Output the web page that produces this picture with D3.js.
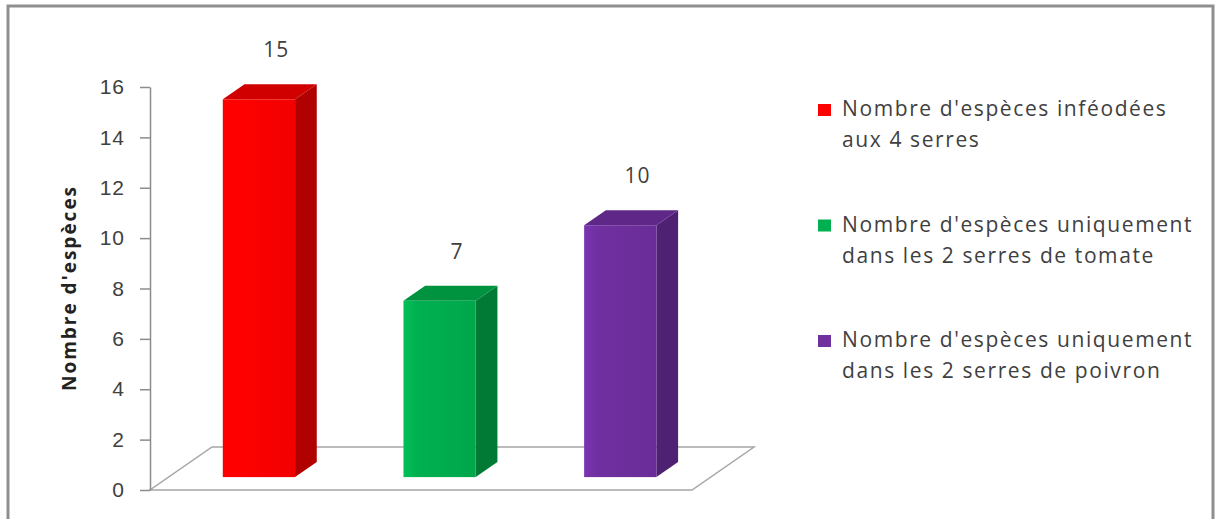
<!DOCTYPE html>
<html>
<head>
<meta charset="utf-8">
<script src="https://cdn.jsdelivr.net/npm/d3@7"></script>
<style>
  body { margin: 0; background: #fff; }
  svg { display: block; font-family: "Open Sans", Lato, sans-serif; }
</style>
</head>
<body>
<div class="chart"></div>
<script>
// data
var categories = ["infeodees", "tomate", "poivron"];
var values = [15, 7, 10];
var legendLines = [
  ["Nombre d'espèces inféodées", "aux 4 serres"],
  ["Nombre d'espèces uniquement", "dans les 2 serres de tomate"],
  ["Nombre d'espèces uniquement", "dans les 2 serres de poivron"]
];
var yTicks = [0, 2, 4, 6, 8, 10, 12, 14, 16];
var frontColors = ["#ff0000", "#00b050", "#7030a0"];
var sideColors = ["#b00000", "#007a35", "#4e2172"];
var topColors = ["#d00000", "#00933f", "#5e2788"];

var width = 1221, height = 519;
var svg = d3.select(".chart").append("svg")
  .attr("width", width)
  .attr("height", height);

svg.append("rect")
  .attr("x", 8).attr("y", 6)
  .attr("width", 1205).attr("height", 530)
  .attr("fill", "#fff")
  .attr("stroke", "#8f8f8f")
  .attr("stroke-width", 3);

var x0 = 150, x1 = 692, yBase = 490;
var depth = {dx: 62, dy: -43};

var y = d3.scaleLinear().domain([0, 16]).range([yBase, 87]);
var x = d3.scaleBand().domain(categories).range([x0, x1])
  .paddingInner(0.6).paddingOuter(0.3);

// floor
var floor = [[x0, yBase], [x1, yBase], [x1 + depth.dx, yBase + depth.dy], [x0 + depth.dx, yBase + depth.dy]];
svg.append("path")
  .attr("d", d3.line()(floor) + "Z")
  .attr("fill", "none")
  .attr("stroke", "#a6a6a6")
  .attr("stroke-width", 1.5);

// y axis
var yAxis = svg.append("g")
  .attr("transform", "translate(" + x0 + ",0)")
  .call(d3.axisLeft(y).tickValues(yTicks).tickSize(10).tickSizeOuter(0).tickPadding(15));
yAxis.select(".domain").attr("stroke", "#8c8c8c").attr("stroke-width", 1.5);
yAxis.selectAll(".tick line").attr("stroke", "#8c8c8c").attr("stroke-width", 1.5);
yAxis.selectAll(".tick text")
  .attr("fill", "#404040")
  .style("font-size", "21px")
  .style("letter-spacing", "1px");

svg.append("text")
  .attr("transform", "translate(76,288) rotate(-90)")
  .attr("text-anchor", "middle")
  .attr("fill", "#222")
  .style("font-size", "19px")
  .style("font-weight", "bold")
  .style("letter-spacing", "2px")
  .text("Nombre d'espèces");

// bars: placed at mid depth
var f0 = 0.3, f1 = 0.65;
var ox = depth.dx * f0, oy = depth.dy * f0;
var bx = depth.dx * (f1 - f0), by = depth.dy * (f1 - f0);

var defs = svg.append("defs");
frontColors.forEach(function(c, i) {
  var g = defs.append("linearGradient").attr("id", "fg" + i);
  g.append("stop").attr("offset", "0%").attr("stop-color", d3.color(c).brighter(0.25));
  g.append("stop").attr("offset", "20%").attr("stop-color", c);
  g.append("stop").attr("offset", "100%").attr("stop-color", d3.color(c).darker(0.15));
});

var bars = svg.selectAll(".bar")
  .data(values)
  .enter().append("g")
  .attr("class", "bar");

bars.append("path")
  .attr("fill", function(d, i) { return sideColors[i]; })
  .attr("d", function(d, i) {
    var xr = x(categories[i]) + x.bandwidth() + ox;
    var yt = y(d) + oy, yb = yBase + oy;
    return d3.line()([[xr, yt], [xr + bx, yt + by], [xr + bx, yb + by], [xr, yb]]) + "Z";
  });

bars.append("path")
  .attr("fill", function(d, i) { return topColors[i]; })
  .attr("d", function(d, i) {
    var xl = x(categories[i]) + ox, xr = xl + x.bandwidth();
    var yt = y(d) + oy;
    return d3.line()([[xl, yt], [xr, yt], [xr + bx, yt + by], [xl + bx, yt + by]]) + "Z";
  });

bars.append("rect")
  .attr("x", function(d, i) { return x(categories[i]) + ox; })
  .attr("y", function(d) { return y(d) + oy; })
  .attr("width", x.bandwidth())
  .attr("height", function(d) { return yBase - y(d); })
  .attr("fill", function(d, i) { return "url(#fg" + i + ")"; });

bars.append("text")
  .attr("x", function(d, i) { return x(categories[i]) + x.bandwidth() / 2 + ox + bx * 0.8; })
  .attr("y", function(d) { return y(d) + oy + by - 27; })
  .attr("text-anchor", "middle")
  .attr("fill", "#404040")
  .style("font-size", "21px")
  .style("letter-spacing", "1px")
  .text(function(d) { return d; });

// legend
var legend = svg.selectAll(".legend")
  .data(legendLines)
  .enter().append("g")
  .attr("class", "legend")
  .attr("transform", function(d, i) { return "translate(818," + (116 + i * 115.5) + ")"; });

legend.append("rect")
  .attr("x", 0).attr("y", -12)
  .attr("width", 13).attr("height", 12)
  .attr("fill", function(d, i) { return frontColors[i]; });

legend.append("text")
  .attr("fill", "#404040")
  .style("font-size", "21px")
  .style("letter-spacing", "1.6px")
  .selectAll("tspan")
  .data(function(d) { return d; })
  .enter().append("tspan")
  .attr("x", 24)
  .attr("dy", function(d, j) { return j === 0 ? 0 : 31; })
  .text(function(d) { return d; });
</script>
</body>
</html>
